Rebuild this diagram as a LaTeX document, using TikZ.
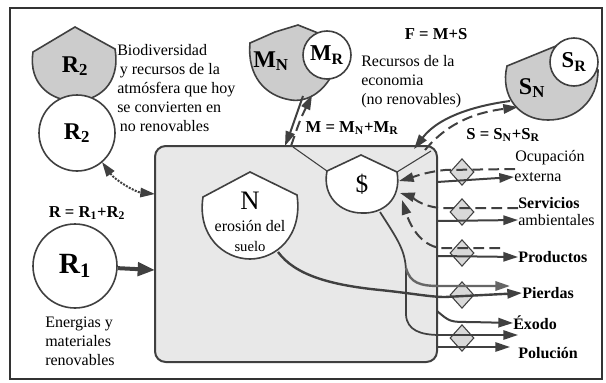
\documentclass[tikz,border=0pt]{standalone}
\usepackage{fontspec}
\setmainfont{Liberation Serif}
\usetikzlibrary{arrows.meta,shapes.geometric}
\tikzset{
 ln/.style={draw=black!75,line width=1.2pt},
 flow/.style={draw=black!75,line width=1.5pt,-{Triangle[length=11pt,width=7pt]}},
 dflow/.style={flow,dash pattern=on 8pt off 4pt},
 circ/.style={circle,draw=black!75,line width=1.2pt,fill=white,inner sep=0pt},
 valve/.style={diamond,draw=black!75,line width=0.8pt,fill=gray!30,inner sep=0pt,minimum width=18pt,minimum height=20pt},
 txt/.style={font=\fontsize{12}{14.25}\selectfont,align=left,inner sep=0pt},
 eq/.style={font=\fontsize{12.5}{14}\selectfont\bfseries,inner sep=0pt},
 big/.style={font=\fontsize{18}{18}\selectfont\bfseries,inner sep=0pt}
}
\begin{document}
\begin{tikzpicture}[x=0.75pt,y=-0.75pt]
 \useasboundingbox (0,0) rectangle (606,382);
 \draw[black!80,line width=1.8pt] (10,8) rectangle (602,379);
 % sistema
 \node[rectangle,rounded corners=8pt,draw=black!75,line width=1.5pt,fill=gray!18,minimum width=211.5pt,minimum height=162pt] (sys) at (296,254) {};
 % valvulas de salida
 \foreach \y/\n in {172/d1,212/d2,253/d3,295/d4,338/d5}{\node[valve] (\n) at (462,\y) {};}
 % R2
 \filldraw[ln,fill=gray!40] (33,52) -- (75,27) -- (115,49) .. controls (121,85) and (97,101) .. (75,101) .. controls (52,101) and (28,85) .. (33,52) -- cycle;
 \node[big] (r2s) at (75,66) {R\textsubscript{2}};
 \node[circ,minimum size=57pt] (r2c) at (77,133) {\bfseries\fontsize{18}{18}\selectfont R\textsubscript{2}};
 \node[txt,anchor=north west] (bio) at (117,44) {Biodiversidad\\ \,y recursos de la\\atmósfera que hoy\\se convierten en\\ \,no renovables};
 % R1
 \node[eq] (req) at (87,213) {R = R\textsubscript{1}+R\textsubscript{2}};
 \node[circ,minimum size=63pt] (r1c) at (75,266) {\bfseries\fontsize{22}{22}\selectfont R\textsubscript{1}};
 \node[txt,anchor=north west] (ener) at (45,317) {Energias y\\materiales\\renovables};
 % M
 \filldraw[ln,fill=gray!40] (250,43) -- (275,32) -- (298,25) -- (318,33) -- (332,75) .. controls (320,97) and (302,102) .. (291,100) .. controls (265,96) and (247,76) .. (250,43) -- cycle;
 \node[big] (mn) at (271,61) {M\textsubscript{N}};
 \node[circ,minimum size=36pt] (mr) at (327,55) {\bfseries\fontsize{17}{17}\selectfont M\textsubscript{R}};
 \node[txt,anchor=north west] (rec) at (361,55) {Recursos de la\\economia\\(no renovables)};
 \node[eq] (feq) at (436,34) {F = M+S};
 \node[eq] (meq) at (352,128) {M = M\textsubscript{N}+M\textsubscript{R}};
 % S
 \filldraw[ln,fill=gray!40] (507,66) -- (556,46) -- (598,70) .. controls (598,102) and (575,120) .. (548,120) .. controls (518,120) and (500,95) .. (507,66) -- cycle;
 \node[big] (sn) at (532,88) {S\textsubscript{N}};
 \node[circ,minimum size=36pt] (sr) at (574,62) {\bfseries\fontsize{17}{17}\selectfont S\textsubscript{R}};
 \node[eq] (seq) at (503,135) {S = S\textsubscript{N}+S\textsubscript{R}};
 % $ y N dentro del sistema
 \filldraw[ln,fill=white] (327,171) -- (361,155) -- (397,172) .. controls (402,200) and (382,214) .. (362,213) .. controls (340,213) and (322,196) .. (327,171) -- cycle;
 \node[inner sep=0pt,font=\fontsize{19}{19}\selectfont] (din) at (362,184) {\$};
 \filldraw[ln,fill=white] (203,197) -- (250,172) -- (297,195) .. controls (303,236) and (276,259) .. (250,259) .. controls (224,259) and (197,236) .. (203,197) -- cycle;
 \node[inner sep=0pt,font=\fontsize{20}{20}\selectfont] (nn) at (250,201) {N};
 \node[txt,align=center] (ero) at (250,226) {erosión del};
 \node[txt,font=\fontsize{11}{12}\selectfont] (sue) at (250,246) {suelo};
 % puntos de union
 \coordinate (mtop) at (285,146); \coordinate (mtop2) at (291,146); \coordinate (mfoot) at (303,96); \coordinate (mfoot2) at (312,95);
 \coordinate (sin) at (414,149); \coordinate (sin2) at (425,150); \coordinate (sfoot) at (510,101); \coordinate (sfoot2) at (518,107);
 \coordinate (dl) at (327,171); \coordinate (dr) at (397,172); \coordinate (db) at (380,212); \coordinate (ns) at (278,252);
 \coordinate (bw) at (155,194); \coordinate (bw2) at (155,270); \coordinate (r2b) at (102,162);
 % flujos de entrada
 \draw[flow,line width=3pt,-{Triangle[length=13pt,width=10pt]}] (r1c) -- (bw2);
 \draw[flow,densely dotted,{Triangle[length=11pt,width=7pt]}-{Triangle[length=11pt,width=7pt]}] (r2b) .. controls (115,180) and (135,192) .. (bw);
 \draw[flow] (mfoot) .. controls (297,115) .. (mtop);
 \draw[dflow] (mtop2) .. controls (300,120) .. (mfoot2);
 \draw[flow] (sfoot) .. controls (480,105) and (440,115) .. (sin);
 \draw[dflow] (sin2) .. controls (450,120) and (480,112) .. (sfoot2);
 \draw[ln,line width=0.8pt] (293,147) -- (dl); \draw[ln,line width=0.8pt] (dr) -- (431,151);
 % flujos de salida
 \node[txt,anchor=west] (ocu) at (515,158) {Ocupación};
 \node[txt,anchor=west] (ext) at (514,177) {externa};
 \node[txt,anchor=west,font=\fontsize{12}{14}\selectfont\bfseries] (ser) at (518,203) {Servicios};
 \node[txt,anchor=west] (amb) at (518,220) {ambientales};
 \node[txt,anchor=west,font=\fontsize{12}{14}\selectfont\bfseries] (pro) at (518,257) {Productos};
 \node[txt,anchor=west,font=\fontsize{12}{14}\selectfont\bfseries] (pie) at (522,293) {Pierdas};
 \node[txt,anchor=west,font=\fontsize{12}{14}\selectfont\bfseries] (exo) at (513,323) {Éxodo};
 \node[txt,anchor=west,font=\fontsize{12}{14}\selectfont\bfseries] (pol) at (518,353) {Polución};
 \draw[dflow] (ocu.west |- 0,169) -- (445,170) .. controls (425,172) and (410,178) .. (399,181);
 \draw[dflow] (ser.west |- 0,208) -- (440,208) .. controls (420,206) and (410,196) .. (400,193);
 \draw[dflow] (500,248) -- (440,248) .. controls (420,245) and (410,225) .. (402,200);
 \draw[flow] (437,182) -- (ext.west);
 \draw[flow] (437,221) -- (amb.west);
 \draw[flow] (437,256) -- (pro.west);
 \draw[flow,line width=1.8pt] (ns) .. controls (295,275) and (330,285) .. (380,290) .. controls (410,293) and (430,297) .. (445,297) -- (pie.west);
 \draw[flow,line width=1.3pt] (db) .. controls (398,240) and (405,250) .. (406,270) -- (406,315) .. controls (407,330) and (420,335) .. (440,335) -- (518,335);
 \draw[flow,line width=1.8pt,black!60] (406,268) .. controls (410,283) and (420,286) .. (440,286) -- (510,286);
 \draw[flow] (437,311) .. controls (450,322) .. (470,322) -- (exo.west);
 \draw[flow] (437,347) -- (510,347);
\end{tikzpicture}
\end{document}
